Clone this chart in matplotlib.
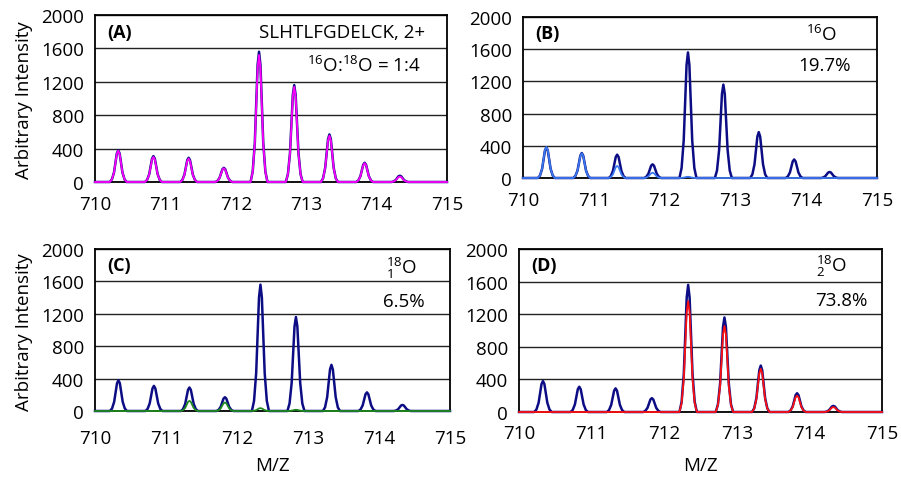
import numpy as np
import matplotlib
matplotlib.use('Agg')
from matplotlib import pyplot as plt

plt.rcParams['font.family'] = ['Open Sans', 'DejaVu Sans']
plt.rcParams['mathtext.fontset'] = 'custom'
plt.rcParams['mathtext.rm'] = 'Open Sans'
plt.rcParams['mathtext.it'] = 'Open Sans'
plt.rcParams['mathtext.bf'] = 'Open Sans:bold'

# isotope peak positions (m/z) and heights
peak_mz = [710.33, 710.83, 711.33, 711.83, 712.33, 712.83, 713.33, 713.83, 714.33]
observed = [380, 310, 290, 170, 1560, 1160, 570, 230, 75]
fit_total = [375, 300, 280, 165, 1520, 1140, 555, 225, 65]
o16 = [385, 305, 150, 65, 15, 0, 0, 0, 0]
o18_1 = [0, 0, 125, 105, 35, 15, 0, 0, 0]
o18_2 = [0, 0, 0, 0, 1360, 1055, 530, 200, 60]

# peak profile (offset in m/z, fraction of peak height)
shape_dx = [-0.12, -0.09, -0.06, -0.04, -0.02, 0, 0.02, 0.04, 0.06, 0.09, 0.12]
shape_frac = [0, 0.08, 0.3, 0.6, 0.9, 1, 0.9, 0.6, 0.3, 0.08, 0]

xticks = [710, 711, 712, 713, 714, 715]
yticks = [0, 400, 800, 1200, 1600, 2000]

navy = '#0c0c85'
W, H = 901, 481


def spectrum(heights):
    xs, ys = [710.0], [0.0]
    for mz, h in zip(peak_mz, heights):
        xs += [mz + d for d in shape_dx]
        ys += [h * f for f in shape_frac]
    xs.append(715.0)
    ys.append(0.0)
    return xs, ys


def box(l, t, r, b):
    return [l / W, 1 - b / H, (r - l) / W, (b - t) / H]


def ftext(x, y, s, **kw):
    fig.text(x / W, 1 - y / H, s, **kw)


fig = plt.figure(figsize=(W / 100, H / 100), dpi=100)

panels = [
    (box(95, 16, 447, 183), fit_total, '#ff00ff', '(A)', 9),
    (box(523, 18, 877, 179), o16, '#3a78f0', '(B)', 9),
    (box(95, 250, 450, 412), o18_1, '#1e8a1e', '(C)', 13),
    (box(519, 250, 882, 413), o18_2, '#ff1010', '(D)', 9),
]

for pos, comp, col, tag, xpad in panels:
    ax = fig.add_axes(pos)
    x, y = spectrum(observed)
    ax.plot(x, y, color=navy, lw=1.8, clip_on=False, zorder=3)
    x, y = spectrum(comp)
    ax.plot(x, y, color=col, lw=1.3, clip_on=False, zorder=4)
    ax.set_xlim(710, 715)
    ax.set_ylim(0, 2000)
    ax.set_xticks(xticks)
    ax.set_yticks(yticks)
    ax.tick_params(length=0, labelsize=13.5)
    ax.tick_params(axis='y', pad=8)
    ax.tick_params(axis='x', pad=xpad)
    ax.yaxis.grid(True, color='#222222', lw=1)
    ax.set_axisbelow(True)
    for s in ax.spines.values():
        s.set_color('black')
        s.set_linewidth(1.3)
    ax.text(0.035, 0.9, tag, transform=ax.transAxes, fontsize=13,
            fontweight='bold', va='center', ha='left')

# annotations
fs = 13.5
ftext(425, 33, 'SLHTLFGDELCK, 2+', fontsize=fs, ha='right', va='center')
ftext(421, 66, r'$^{16}$O:$^{18}$O = 1:4', fontsize=fs, ha='right', va='center')
ftext(837, 35, r'$^{16}$O', fontsize=fs, ha='right', va='center')
ftext(851, 66, '19.7%', fontsize=fs, ha='right', va='center')
ftext(417, 268, r'$^{18}_{1}$O', fontsize=fs, ha='right', va='center')
ftext(425, 302, '6.5%', fontsize=fs, ha='right', va='center')
ftext(847, 266, r'$^{18}_{2}$O', fontsize=fs, ha='right', va='center')
ftext(868, 301, '73.8%', fontsize=fs, ha='right', va='center')

# axis titles
ftext(24, 100, 'Arbitrary Intensity', fontsize=13.5, rotation=90, ha='center', va='center')
ftext(24, 332, 'Arbitrary Intensity', fontsize=13.5, rotation=90, ha='center', va='center')
ftext(272, 466, 'M/Z', fontsize=13.5, ha='center', va='center')
ftext(700, 466, 'M/Z', fontsize=13.5, ha='center', va='center')

fig.savefig('out.png', dpi=100)
